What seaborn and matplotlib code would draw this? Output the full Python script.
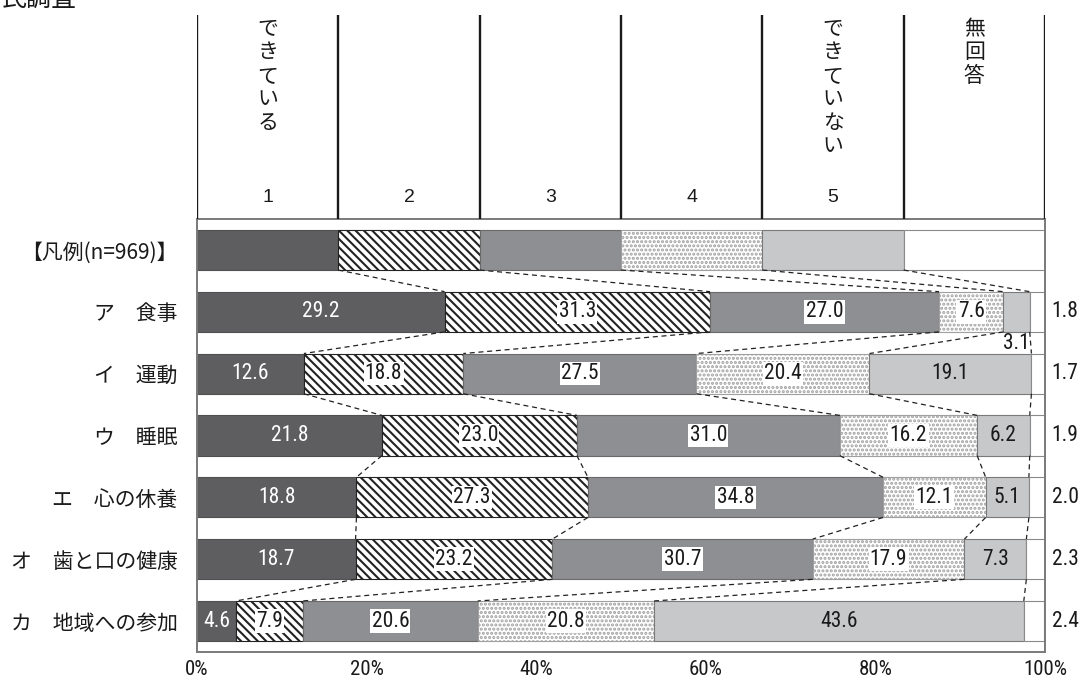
import matplotlib
matplotlib.use("Agg")
import matplotlib.pyplot as plt
import seaborn as sns
import pandas as pd
import numpy as np

# ---- data -------------------------------------------------------------
items = ["ア　食事", "イ　運動", "ウ　睡眠", "エ　心の休養", "オ　歯と口の健康", "カ　地域への参加"]
key_label = "【凡例(n=969)】"
col_numbers = ["1", "2", "3", "4", "5"]
col_words = {0: "できている", 4: "できていない", 5: "無回答"}

s1 = [29.2, 12.6, 21.8, 18.8, 18.7, 4.6]
s2 = [31.3, 18.8, 23.0, 27.3, 23.2, 7.9]
s3 = [27.0, 27.5, 31.0, 34.8, 30.7, 20.6]
s4 = [7.6, 20.4, 16.2, 12.1, 17.9, 20.8]
s5 = [3.1, 19.1, 6.2, 5.1, 7.3, 43.6]
no_answer = [1.8, 1.7, 1.9, 2.0, 2.3, 2.4]

# the key row splits the scale into six equal columns
key_share = [100 / 6] * 6

xticks = [0, 20, 40, 60, 80, 100]
xtick_labels = ["0%", "20%", "40%", "60%", "80%", "100%"]

# ---- styling ----------------------------------------------------------
sns.set_theme(style="white")
plt.rcParams["font.family"] = ["Noto Sans CJK JP", "DejaVu Sans"]
plt.rcParams["hatch.linewidth"] = 1.5
NUM_FONT = ["Roboto Condensed", "Liberation Sans", "DejaVu Sans"]
CJK = ["Noto Sans CJK JP", "DejaVu Sans"]

fills = ["#5e5e60", "white", "#8e8f92", "white", "#c7c8ca", "white"]
edges = ["#505050", "#222222", "#6a6a6a", "#a0a0a0", "#7a7a7a", "#8a8a8a"]
hatches = [None, "\\" * 4, None, "....", None, None]

rows = [key_label] + items
seg_cols = ["s1", "s2", "s3", "s4", "s5", "na"]
df = pd.DataFrame({
    "row": rows,
    "s1": [key_share[0]] + s1,
    "s2": [key_share[1]] + s2,
    "s3": [key_share[2]] + s3,
    "s4": [key_share[3]] + s4,
    "s5": [key_share[4]] + s5,
    "na": [key_share[5]] + no_answer,
})
widths = df[seg_cols].to_numpy()
lefts = np.hstack([np.zeros((len(df), 1)), np.cumsum(widths, axis=1)[:, :-1]])

W, H = 1087, 684
fig = plt.figure(figsize=(W / 100, H / 100), dpi=100)
ax = fig.add_axes([197 / W, 32 / H, 848 / W, 433 / H])

BAR_H = 0.65
for k, col in enumerate(seg_cols):
    kw = dict(color=fills[k], edgecolor=edges[k], linewidth=0.8)
    if hatches[k]:
        kw["hatch"] = hatches[k]
    sns.barplot(data=df, y="row", x=col, order=rows, orient="h",
                left=lefts[:, k], width=BAR_H, saturation=1,
                errorbar=None, ax=ax, **kw)

ax.set_xlim(0, 100)
ax.set_ylim(len(rows) - 0.5, -0.5)

# dashed connectors between neighbouring rows
for r in range(len(rows) - 1):
    for k in range(1, 6):
        ax.plot([lefts[r, k], lefts[r + 1, k]],
                [r + BAR_H / 2, r + 1 - BAR_H / 2],
                ls=(0, (4, 3)), color="#222222", lw=0.9, zorder=3)

# value labels inside the segments
LBL = 15.5
for i in range(1, len(rows)):
    for k in range(5):
        v = widths[i, k]
        cx = lefts[i, k] + v / 2
        txt = f"{v:.1f}"
        if k == 0:
            ax.text(cx, i, txt, ha="center", va="center", color="white",
                    fontsize=LBL, family=NUM_FONT, zorder=4)
        elif k in (1, 2, 3):
            ax.text(cx, i, txt, ha="center", va="center", color="#1a1a1a",
                    fontsize=LBL, family=NUM_FONT, zorder=4,
                    bbox=dict(boxstyle="square,pad=0.06", fc="white", ec="none"))
        else:
            if v < 4:
                ax.text(lefts[i, k] + v, i + 0.51, txt, ha="right", va="center",
                        color="#1a1a1a", fontsize=LBL, family=NUM_FONT, zorder=4)
            else:
                ax.text(cx, i, txt, ha="center", va="center", color="#1a1a1a",
                        fontsize=LBL, family=NUM_FONT, zorder=4)
    # no-answer share outside the frame
    ax.text(100.8, i, f"{widths[i, 5]:.1f}", ha="left", va="center",
            color="#1a1a1a", fontsize=LBL, family=NUM_FONT, clip_on=False)

ax.set_xticks(xticks)
ax.set_xticklabels(xtick_labels, family=NUM_FONT, fontsize=15, color="#1a1a1a")
ax.set_yticks(range(len(rows)))
ax.set_yticklabels(rows, family=CJK, fontsize=15, color="#1a1a1a")
ax.tick_params(axis="y", length=0, pad=14)
ax.tick_params(axis="x", length=0, pad=6)
ax.set_xlabel("")
ax.set_ylabel("")
for side in ["left", "right", "top", "bottom"]:
    ax.spines[side].set_visible(True)
    ax.spines[side].set_color("#7a7a7a")
    ax.spines[side].set_linewidth(1.4)

# column header above the chart
hdr = fig.add_axes([197 / W, (H - 219) / H, 848 / W, (219 - 15) / H])
hdr.set_xlim(0, 100)
hdr.set_ylim(219, 15)
hdr.axis("off")
bounds = np.concatenate([[0], np.cumsum(key_share)])
hdr.vlines(bounds, 15, 219, color="#1a1a1a", lw=1.7)
centers = (bounds[:-1] + bounds[1:]) / 2
for j, num in enumerate(col_numbers):
    hdr.text(centers[j], 198, num, ha="center", va="center", fontsize=14,
             family=["Liberation Sans", "DejaVu Sans"], color="#1a1a1a")
for j, word in col_words.items():
    for n, ch in enumerate(word):
        hdr.text(centers[j], 29 + n * 23.4, ch, ha="center", va="center",
                 fontsize=15, family=CJK, color="#1a1a1a")

fig.text(2 / W, 1 + 1 / H, "民調査", ha="left", va="center", fontsize=18,
         family=CJK, color="#1a1a1a")

fig.savefig("out.png", dpi=100)
